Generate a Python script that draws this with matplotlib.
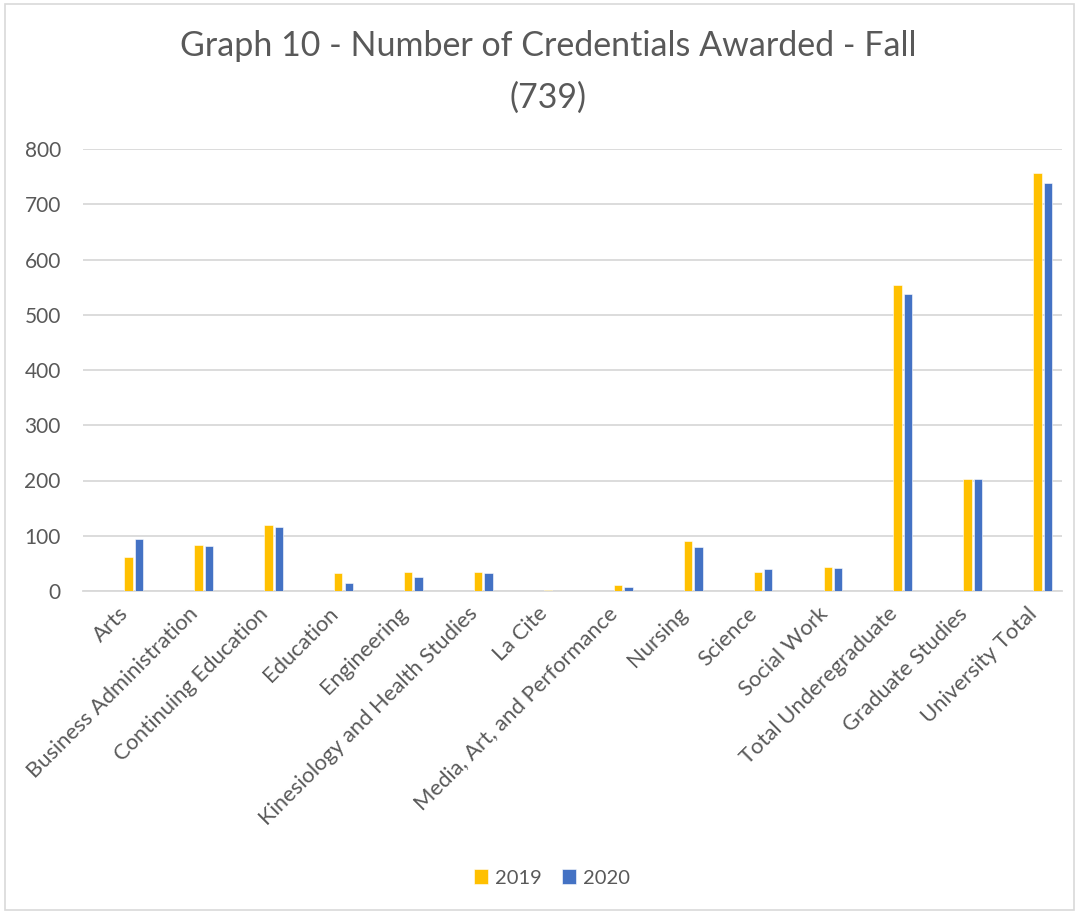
import matplotlib
matplotlib.use("Agg")
import matplotlib.pyplot as plt
import numpy as np
from matplotlib.patches import Rectangle

categories = ["Arts", "Business Administration", "Continuing Education", "Education",
              "Engineering", "Kinesiology and Health Studies", "La Cite",
              "Media, Art, and Performance", "Nursing", "Science", "Social Work",
              "Total Underegraduate", "Graduate Studies", "University Total"]
values_2019 = [61, 83, 120, 33, 35, 35, 1, 10, 90, 35, 43, 553, 203, 756]
values_2020 = [94, 82, 115, 15, 25, 32, 0, 7, 79, 40, 42, 537, 202, 739]
yticks = [0, 100, 200, 300, 400, 500, 600, 700, 800]
title_line1 = "Graph 10 - Number of Credentials Awarded - Fall"
title_line2 = "(739)"

plt.rcParams['font.family'] = ['Lato', 'DejaVu Sans']
txt = '#595959'

fig = plt.figure(figsize=(10.8, 9.14), dpi=100)
fig.patches.append(Rectangle((5/1080, 4/914), 1069/1080, 906/914, transform=fig.transFigure,
                             fill=False, edgecolor='#D9D9D9', linewidth=1.2))
ax = fig.add_axes([83/1080, 323/914, 979/1080, 442/914])

x = np.arange(len(categories))
w = 0.12
ax.bar(x + 0.15, values_2019, w, color='#FFC000', edgecolor='white', linewidth=0.4, label='2019', zorder=3)
ax.bar(x + 0.30, values_2020, w, color='#4472C4', edgecolor='white', linewidth=0.4, label='2020', zorder=3)

ax.set_xlim(-0.5, len(categories) - 0.5)
ax.set_ylim(0, 800)
ax.set_yticks(yticks)
ax.set_yticklabels([str(v) for v in yticks], fontsize=15, color=txt)
ax.yaxis.grid(True, color='#D9D9D9', linewidth=1.3, zorder=0)
ax.set_axisbelow(True)
ax.tick_params(axis='y', length=0, pad=16)
ax.tick_params(axis='x', length=0, pad=9)
ax.set_xticks(x)
ax.set_xticklabels(categories, rotation=45, ha='right', rotation_mode='anchor', fontsize=15.8, color=txt)
for s in ['top', 'right', 'left']:
    ax.spines[s].set_visible(False)
ax.spines['bottom'].set_color('#D9D9D9')
ax.spines['bottom'].set_linewidth(1.3)

fig.text(548/1080, 1 - 46/914, title_line1, ha='center', va='center', fontsize=24.5, color=txt)
fig.text(548/1080, 1 - 98/914, title_line2, ha='center', va='center', fontsize=24.5, color=txt)

leg = fig.legend(loc='center', bbox_to_anchor=(552/1080, 1 - 878/914), ncol=2, frameon=False,
                 fontsize=14.5, handlelength=0.7, handleheight=0.7, columnspacing=1.0, handletextpad=0.35)
for t in leg.get_texts():
    t.set_color(txt)

fig.savefig('out.png', dpi=100)
